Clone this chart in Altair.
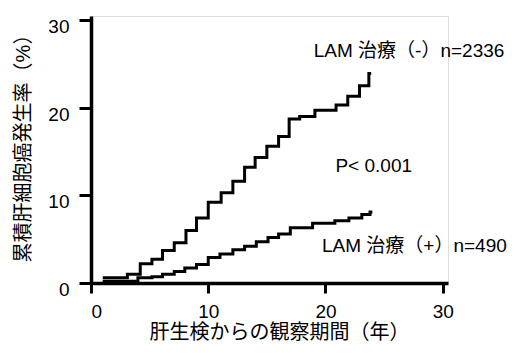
import altair as alt
import pandas as pd

# Upper curve: LAM treatment (-)
neg_x = [1.0, 3.1, 4.2, 5.2, 6.1, 7.1, 8.1, 9.0, 10.0, 11.1, 12.1, 13.1, 14.0, 15.0,
         16.0, 16.9, 17.8, 19.1, 20.9, 21.9, 22.9, 23.7, 23.9]
neg_y = [0.6, 1.0, 2.2, 2.7, 3.7, 4.6, 6.0, 7.4, 9.2, 10.3, 11.6, 13.2, 14.3, 15.6,
         16.7, 18.7, 19.0, 19.7, 20.3, 21.3, 22.5, 23.9, 23.9]

# Lower curve: LAM treatment (+)
pos_x = [1.0, 4.0, 5.2, 6.1, 7.1, 8.0, 9.0, 10.0, 11.0, 12.1, 13.1, 14.1, 15.1,
         16.0, 17.0, 18.9, 20.8, 22.0, 23.1, 23.8, 24.0]
pos_y = [0.2, 0.6, 0.7, 1.0, 1.3, 1.7, 2.1, 2.9, 3.3, 3.8, 4.2, 4.7, 5.2,
         5.6, 6.3, 6.8, 7.1, 7.4, 7.8, 8.1, 8.1]

ann_text = ["LAM 治療（-）n=2336", "P< 0.001", "LAM 治療（+）n=490"]
ann_x = [19.0, 20.85, 19.7]
ann_y = [26.5, 13.3, 4.2]

x_ticks = [0, 10, 20, 30]
y_ticks = [0, 10, 20, 30]

x_title = "肝生検からの観察期間（年）"
y_title = "累積肝細胞癌発生率（%）"

FONT = "Liberation Sans, Arial, Noto Sans CJK JP"

df = pd.DataFrame(
    {"x": neg_x + pos_x,
     "y": neg_y + pos_y,
     "g": ["neg"] * len(neg_x) + ["pos"] * len(pos_x)}
)
ann = pd.DataFrame({"t": ann_text, "x": ann_x, "y": ann_y})

xs = alt.Scale(domain=[0, 30.45], nice=False, zero=False)
ys = alt.Scale(domain=[0, 30.45], nice=False, zero=False)

lines = alt.Chart(df).mark_line(
    interpolate="step-after", color="black", strokeWidth=3, strokeJoin="miter", strokeCap="butt"
).encode(
    x=alt.X("x:Q", scale=xs, axis=alt.Axis(
        values=x_ticks, title=x_title, grid=False, tickSize=10, tickWidth=3,
        domainWidth=3.5, domainColor="black", tickColor="black",
        labelFontSize=19, labelPadding=9, labelColor="black", labelFont=FONT,
        titleFontSize=20, titleFont=FONT, titleFontWeight="normal", titleColor="black",
        titleX=188, titleY=49, titleBaseline="middle", titleAlign="center",
    )),
    y=alt.Y("y:Q", scale=ys, axis=alt.Axis(
        values=y_ticks, title=y_title, grid=False, tickSize=12, tickWidth=3,
        domainWidth=3.5, domainColor="black", tickColor="black",
        labelFontSize=19, labelPadding=10, labelColor="black", labelFont=FONT,
        labelBaseline="middle", labelOffset=6.5,
        titleFontSize=20, titleFont=FONT, titleFontWeight="normal", titleColor="black",
        titleX=-68, titleY=127, titleBaseline="middle", titleAlign="center", titleAngle=270,
    )),
    detail="g:N",
)

texts = alt.Chart(ann).mark_text(
    align="left", baseline="middle", fontSize=19, font=FONT, color="black"
).encode(
    x=alt.X("x:Q", scale=xs),
    y=alt.Y("y:Q", scale=ys),
    text="t:N",
)

chart = alt.layer(lines, texts).properties(
    width=357, height=267,
    autosize=alt.AutoSizeParams(type="none"),
    padding={"left": 83, "top": 8, "right": 60, "bottom": 62},
).configure_view(stroke=None).configure(background="white")

chart.save("out.html", embed_options={"renderer": "svg", "actions": False})
